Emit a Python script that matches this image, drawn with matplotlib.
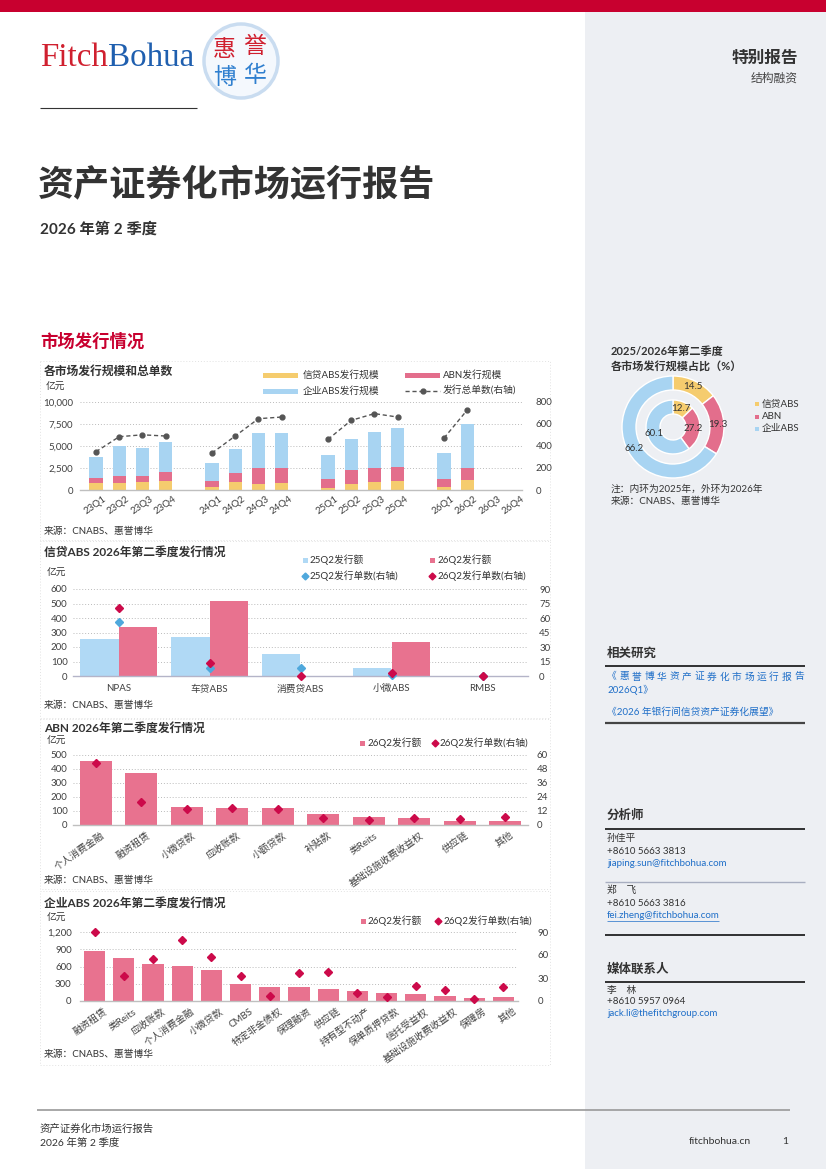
import numpy as np
import matplotlib
matplotlib.use('Agg')
import matplotlib.pyplot as plt
from matplotlib.patches import Rectangle, Circle
import matplotlib.transforms as mtransforms

plt.rcParams['font.family'] = ['Lato', 'Noto Sans CJK SC', 'DejaVu Sans']
plt.rcParams['axes.unicode_minus'] = False

nan = np.nan
# ---------------- data ----------------
quarters = ['23Q1', '23Q2', '23Q3', '23Q4', '24Q1', '24Q2', '24Q3', '24Q4',
            '25Q1', '25Q2', '25Q3', '25Q4', '26Q1', '26Q2', '26Q3', '26Q4']
credit_abs = [740, 830, 940, 1060, 380, 870, 680, 790, 260, 733, 900, 1020, 380, 1083, nan, nan]
abn_amt = [660, 750, 680, 1015, 600, 1090, 1770, 1740, 940, 1569, 1550, 1580, 820, 1442, nan, nan]
corp_abs = [2300, 3400, 3100, 3395, 2040, 2680, 3965, 3920, 2760, 3468, 4120, 4380, 2950, 4945, nan, nan]
deal_count = [347, 483, 500, 489, 335, 489, 646, 661, 459, 631, 692, 661, 471, 725, nan, nan]

share_labels = ['信贷ABS', 'ABN', '企业ABS']
share_2025 = [12.7, 27.2, 60.1]
share_2026 = [14.5, 19.3, 66.2]

credit_cats = ['NPAS', '车贷ABS', '消费贷ABS', '小微ABS', 'RMBS']
credit_amt_25 = [253, 271, 152, 57, 0]
credit_amt_26 = [336, 517, 0, 232, 0]
credit_cnt_25 = [56, 8, 8, 1, 0]
credit_cnt_26 = [70, 13, 0, 3, 0]

abn_cats = ['个人消费金融', '融资租赁', '小微贷款', '应收账款', '小额贷款', '补贴款',
            '类Reits', '基础设施收费收益权', '供应链', '其他']
abn_q2_amt = [460, 370, 127, 125, 120, 80, 59, 52, 26, 26]
abn_q2_cnt = [53, 20, 14, 15, 14, 6, 4, 6, 5, 7]

corp_cats = ['融资租赁', '类Reits', '应收账款', '个人消费金融', '小微贷款', 'CMBS',
             '特定非金债权', '保理融资', '供应链', '持有型不动产', '保单质押贷款',
             '信托受益权', '基础设施收费收益权', '保障房', '其他']
corp_q2_amt = [872, 749, 644, 609, 533, 304, 252, 240, 205, 176, 135, 117, 82, 47, 64]
corp_q2_cnt = [90, 32, 55, 80, 57, 33, 6, 36, 38, 11, 5, 20, 14, 2, 18]

# ---------------- style ----------------
YEL = '#F5CC6E'
PINK = '#E36E8C'
LBLUE = '#A8D4F2'
BAR25 = '#B0D9F5'
BAR26 = '#E8728F'
DIA25 = '#4FA8DC'
DIA26 = '#CC0A4A'
TXT = '#333333'
TICK = '#404040'
RED = '#C8002F'
LINK = '#1F6FC8'

W, H = 826, 1169
fig = plt.figure(figsize=(W / 100, H / 100), dpi=100)
bg = fig.add_axes([0, 0, 1, 1], zorder=-10)
bg.set_xlim(0, W)
bg.set_ylim(H, 0)
bg.axis('off')


def T(x, y, s, size=7, color=TXT, weight='normal', ha='left', va='center', **kw):
    return bg.text(x, y, s, fontsize=size, color=color, fontweight=weight, ha=ha, va=va, **kw)


def axes_px(l, t, r, b):
    return fig.add_axes([l / W, 1 - b / H, (r - l) / W, (b - t) / H])


def hline(x0, x1, y, color='#222222', lw=1.0, ls='-'):
    bg.plot([x0, x1], [y, y], color=color, lw=lw, ls=ls, solid_capstyle='butt')


# background / frame
bg.add_patch(Rectangle((585, 12), W - 585, H - 12, color='#EDEFF3', lw=0))
bg.add_patch(Rectangle((0, 0), W, 12, color=RED, lw=0))

# logo
t_fitch = bg.text(40, 73, 'Fitch', fontsize=23.8, color='#D0202F', family=['Liberation Serif'],
                  ha='left', va='bottom')
bg.annotate('Bohua', xy=(1, 0), xycoords=t_fitch, fontsize=23.8, color='#1F5FAF',
            family=['Liberation Serif'], ha='left', va='bottom')
bg.add_patch(Circle((241, 61), 37, facecolor='#F4F8FD', edgecolor='#C9DCF0', lw=2.5))
T(224, 49, '惠', size=16.5, color='#D0202F', ha='center')
T(255, 46, '誉', size=16.5, color='#D0202F', ha='center')
T(225, 77, '博', size=16.5, color='#2F7FCF', ha='center')
T(255, 75, '华', size=16.5, color='#2F7FCF', ha='center')
hline(40, 197, 108, color='#333333', lw=0.8)

T(798, 58, '特别报告', size=12, weight='bold', ha='right')
T(798, 78, '结构融资', size=8.5, color='#444444', ha='right')

T(38, 185, '资产证券化市场运行报告', size=26, weight='bold', color='#333333')
T(40, 229, '2026 年第 2 季度', size=11, weight='bold', color='#333333')
T(40, 341, '市场发行情况', size=12.5, weight='bold', color=RED)

# panel borders (faint dotted)
for (t0, b0) in [(361, 540), (541, 718), (719, 889), (891, 1065)]:
    bg.add_patch(Rectangle((40, t0), 510, b0 - t0, fill=False, edgecolor='#E2E2E2', lw=0.7, ls=(0, (1, 2))))


def style_axes(ax, axr, bottom_color='#BFBFBF'):
    for a in (ax, axr):
        for sp in a.spines.values():
            sp.set_visible(False)
        a.tick_params(length=0, labelsize=7, labelcolor=TICK)
    ax.spines['bottom'].set_visible(True)
    ax.spines['bottom'].set_color(bottom_color)
    ax.spines['bottom'].set_linewidth(1.0)
    ax.yaxis.grid(True, linestyle=(0, (1, 2)), color='#BBBBBB', lw=0.7)
    ax.set_axisbelow(True)
    ax.set_facecolor('none')


def shift_labels(ax, dx_px, dy_px=0):
    off = mtransforms.ScaledTranslation(dx_px / 100, dy_px / 100, fig.dpi_scale_trans)
    for lbl in ax.get_xticklabels():
        lbl.set_transform(lbl.get_transform() + off)


# ---------------- chart 1 ----------------
T(44, 371, '各市场发行规模和总单数', size=8.5, weight='bold')
T(46, 387, '亿元', size=7)
bg.add_patch(Rectangle((263, 372.5), 35, 5, color=YEL, lw=0))
T(303, 375, '信贷ABS发行规模', size=7)
bg.add_patch(Rectangle((405, 372.5), 35, 5, color=PINK, lw=0))
T(443, 375, 'ABN发行规模', size=7)
bg.add_patch(Rectangle((263, 388.5), 35, 5, color=LBLUE, lw=0))
T(303, 391, '企业ABS发行规模', size=7)
bg.plot([405, 440], [391, 391], color='#555555', lw=1, dashes=(3, 2))
bg.plot([422.5], [391], 'o', color='#555555', ms=3.5)
T(443, 391, '发行总单数(右轴)', size=7)

ax1 = axes_px(80, 401.7, 522, 490)
ax1r = ax1.twinx()
slots = np.array([i + i // 4 for i in range(len(quarters))])
c1 = np.array(credit_abs, float)
a1 = np.array(abn_amt, float)
e1 = np.array(corp_abs, float)
bw = 0.57
ax1.bar(slots, c1, bw, color=YEL, lw=0)
ax1.bar(slots, a1, bw, bottom=c1, color=PINK, lw=0)
ax1.bar(slots, e1, bw, bottom=c1 + a1, color=LBLUE, lw=0)
cnt = np.array(deal_count, float)
for g in range(4):
    s = slice(g * 4, g * 4 + 4)
    ax1r.plot(slots[s], cnt[s], color='#555555', lw=1, dashes=(3, 2), marker='o', ms=3.5)
ax1.set_xlim(-0.69, 18.36)
ax1.set_ylim(0, 10000)
ax1.set_yticks(np.arange(0, 10001, 2500))
ax1.set_yticklabels([f'{v:,}' for v in range(0, 10001, 2500)])
ax1r.set_ylim(0, 800)
ax1r.set_yticks(np.arange(0, 801, 200))
style_axes(ax1, ax1r)
ax1.tick_params(axis='y', pad=5)
ax1r.tick_params(axis='y', pad=10)
ax1.set_xticks(slots)
ax1.set_xticklabels(quarters, rotation=35, ha='right', va='top', rotation_mode='anchor')
ax1.tick_params(axis='x', pad=3)
shift_labels(ax1, 7)
T(44, 531, '来源：CNABS、惠誉博华', size=7)

# ---------------- donut ----------------
T(611, 351, '2025/2026年第二季度', size=8, weight='bold')
T(611, 366, '各市场发行规模占比（%）', size=8, weight='bold')
axd = axes_px(613, 367, 733, 487)
cols = [YEL, PINK, LBLUE]
axd.pie(share_2026, radius=51, colors=cols, startangle=90, counterclock=False,
        wedgeprops=dict(width=14, edgecolor='white', linewidth=1),
        autopct='%.1f', pctdistance=0.88, textprops=dict(fontsize=7, color=TXT))
axd.pie(share_2025, radius=27, colors=cols, startangle=90, counterclock=False,
        wedgeprops=dict(width=14, edgecolor='white', linewidth=1),
        autopct='%.1f', pctdistance=0.74, textprops=dict(fontsize=7, color=TXT))
axd.set_xlim(-60, 60)
axd.set_ylim(-60, 60)
axd.set_aspect('equal')
axd.axis('off')
for i, (lab, c) in enumerate(zip(share_labels, cols)):
    yy = 404 + i * 12.5
    bg.add_patch(Rectangle((755, yy - 2), 4, 4, color=c, lw=0))
    T(762, yy, lab, size=7)
T(611, 489, '注：内环为2025年，外环为2026年', size=7)
T(611, 501, '来源：CNABS、惠誉博华', size=7)

# ---------------- chart 2 ----------------
T(44, 552, '信贷ABS 2026年第二季度发行情况', size=8.5, weight='bold')
T(47, 573, '亿元', size=7)
bg.add_patch(Rectangle((302.5, 557.5), 5, 5, color=BAR25, lw=0))
T(310, 560, '25Q2发行额', size=7)
bg.add_patch(Rectangle((429.5, 557.5), 5, 5, color=BAR26, lw=0))
T(437, 560, '26Q2发行额', size=7)
bg.plot([305], [576], 'D', color=DIA25, ms=3.5)
T(310, 576, '25Q2发行单数(右轴)', size=7)
bg.plot([432], [576], 'D', color=DIA26, ms=3.5)
T(437, 576, '26Q2发行单数(右轴)', size=7)

ax2 = axes_px(73, 589, 528, 676)
ax2r = ax2.twinx()
x2 = np.arange(len(credit_cats))
ax2.bar(x2 - 0.21, credit_amt_25, 0.42, color=BAR25, lw=0)
ax2.bar(x2 + 0.21, credit_amt_26, 0.42, color=BAR26, lw=0)
ax2r.plot(x2, credit_cnt_25, 'D', color=DIA25, ms=4.5, ls='none', clip_on=False)
ax2r.plot(x2, credit_cnt_26, 'D', color=DIA26, ms=4.5, ls='none', clip_on=False)
ax2.set_xlim(-0.5, 4.5)
ax2.set_ylim(0, 600)
ax2.set_yticks(np.arange(0, 601, 100))
ax2r.set_ylim(0, 90)
ax2r.set_yticks(np.arange(0, 91, 15))
style_axes(ax2, ax2r, '#B4B4C8')
ax2.tick_params(axis='y', pad=4)
ax2r.tick_params(axis='y', pad=8)
ax2.set_xticks(x2)
ax2.set_xticklabels(credit_cats)
ax2.tick_params(axis='x', pad=6)
T(44, 705, '来源：CNABS、惠誉博华', size=7)

# ---------------- chart 3 ----------------
T(44, 728, 'ABN 2026年第二季度发行情况', size=8.5, weight='bold')
T(47, 741, '亿元', size=7)
bg.add_patch(Rectangle((359.5, 740.5), 5, 5, color=BAR26, lw=0))
T(368, 743, '26Q2发行额', size=7)
bg.plot([435], [743], 'D', color=DIA26, ms=3.5)
T(440, 743, '26Q2发行单数(右轴)', size=7)

ax3 = axes_px(73, 755, 528, 825)
ax3r = ax3.twinx()
x3 = np.arange(len(abn_cats))
ax3.bar(x3, abn_q2_amt, 0.71, color=BAR26, lw=0)
ax3r.plot(x3, abn_q2_cnt, 'D', color=DIA26, ms=4.5, ls='none', clip_on=False)
ax3.set_xlim(-0.5, len(abn_cats) - 0.5)
ax3.set_ylim(0, 500)
ax3.set_yticks(np.arange(0, 501, 100))
ax3r.set_ylim(0, 60)
ax3r.set_yticks(np.arange(0, 61, 12))
style_axes(ax3, ax3r)
ax3.tick_params(axis='y', pad=4)
ax3r.tick_params(axis='y', pad=6)
ax3.set_xticks(x3)
ax3.set_xticklabels(abn_cats, rotation=35, ha='right', va='top', rotation_mode='anchor')
ax3.tick_params(axis='x', pad=4)
shift_labels(ax3, 5)
T(44, 880, '来源：CNABS、惠誉博华', size=7)

# ---------------- chart 4 ----------------
T(44, 903, '企业ABS 2026年第二季度发行情况', size=8.5, weight='bold')
T(47, 918, '亿元', size=7)
bg.add_patch(Rectangle((360.5, 918.5), 5, 5, color=BAR26, lw=0))
T(368, 921, '26Q2发行额', size=7)
bg.plot([438], [921], 'D', color=DIA26, ms=3.5)
T(443, 921, '26Q2发行单数(右轴)', size=7)

ax4 = axes_px(80, 932, 518, 1001)
ax4r = ax4.twinx()
x4 = np.arange(len(corp_cats))
ax4.bar(x4, corp_q2_amt, 0.72, color=BAR26, lw=0)
ax4r.plot(x4, corp_q2_cnt, 'D', color=DIA26, ms=4.5, ls='none', clip_on=False)
ax4.set_xlim(-0.5, len(corp_cats) - 0.5)
ax4.set_ylim(0, 1200)
ax4.set_yticks(np.arange(0, 1201, 300))
ax4.set_yticklabels([f'{v:,}' for v in range(0, 1201, 300)])
ax4r.set_ylim(0, 90)
ax4r.set_yticks(np.arange(0, 91, 30))
style_axes(ax4, ax4r)
ax4.tick_params(axis='y', pad=6)
ax4r.tick_params(axis='y', pad=14)
ax4.set_xticks(x4)
ax4.set_xticklabels(corp_cats, rotation=35, ha='right', va='top', rotation_mode='anchor')
ax4.tick_params(axis='x', pad=4)
shift_labels(ax4, 9)
T(44, 1054, '来源：CNABS、惠誉博华', size=7)

# ---------------- sidebar ----------------
T(607, 653, '相关研究', size=9, weight='bold')
hline(605, 805, 666, lw=1.3)
link1 = '《惠誉博华资产证券化市场运行报告'
n = len(link1)
for i, ch in enumerate(link1):
    T(612 + i * (187 / (n - 1)), 677, ch, size=7, color=LINK, ha='center')
T(607, 690, '2026Q1》', size=7, color=LINK)
T(607, 712, '《2026 年银行间信贷资产证券化展望》', size=7, color=LINK)
hline(605, 805, 723, color='#444444', lw=1.6)

T(607, 815, '分析师', size=9, weight='bold')
hline(605, 805, 829, lw=1.3)
T(607, 838, '孙佳平', size=7)
T(607, 851, '+8610 5663 3813', size=7)
T(607, 863, 'jiaping.sun@fitchbohua.com', size=7, color=LINK)
hline(605, 805, 882, color='#A8AEC0', lw=1.0)
T(607, 890, '郑　飞', size=7)
T(607, 903, '+8610 5663 3816', size=7)
T(607, 915, 'fei.zheng@fitchbohua.com', size=7, color=LINK)
hline(607, 719, 920.5, color=LINK, lw=0.5)
hline(605, 805, 935, lw=1.3)

T(607, 969, '媒体联系人', size=9, weight='bold')
hline(605, 805, 982, lw=1.3)
T(607, 990, '李　林', size=7)
T(607, 1002, '+8610 5957 0964', size=7)
T(607, 1014, 'jack.li@thefitchgroup.com', size=7, color=LINK)

# ---------------- footer ----------------
hline(37, 790, 1110, color='#999999', lw=1.2)
T(40, 1129, '资产证券化市场运行报告', size=7.5, color='#333333')
T(40, 1143, '2026 年第 2 季度', size=7.5, color='#333333')
T(751, 1142, 'fitchbohua.cn', size=7.5, color='#333333', ha='right')
T(785, 1142, '1', size=7.5, color='#333333', ha='center')

fig.savefig('out.png', dpi=100)
